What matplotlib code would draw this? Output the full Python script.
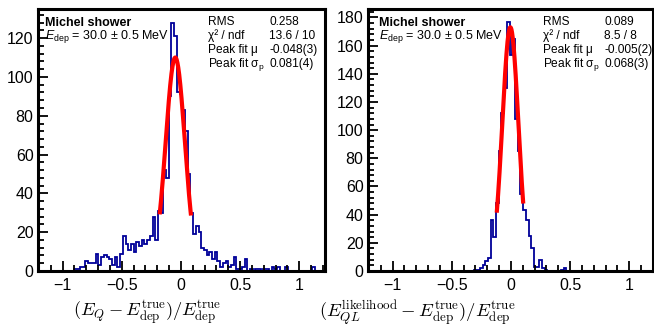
import numpy as np
import matplotlib
matplotlib.use("Agg")
import matplotlib.pyplot as plt
from matplotlib.ticker import MultipleLocator, AutoMinorLocator, FuncFormatter

plt.rcParams.update({
    "font.family": ["Liberation Sans", "DejaVu Sans"],
    "mathtext.fontset": "custom",
    "mathtext.rm": "Liberation Sans",
    "mathtext.it": "Liberation Sans:italic",
    "mathtext.bf": "Liberation Sans:bold",
})

# 105 bins between -1.2 and 1.2
bin_edges = np.linspace(-1.2, 1.2, 106)

# charge-only energy residual
counts_q = [
    0, 0, 0, 0, 0, 0, 0, 0, 0, 0, 0, 0, 0, 1, 1,
    2, 2, 5, 4, 4, 4, 9, 3, 7, 8, 7, 6, 3, 7, 2,
    9, 18, 14, 11, 14, 10, 15, 13, 16, 14, 16, 18, 28, 16, 31,
    30, 52, 48, 90, 128, 121, 92, 91, 83, 72, 50, 30, 19, 23, 20,
    12, 11, 8, 10, 6, 10, 5, 2, 4, 5, 2, 3, 7, 1, 1,
    2, 6, 0, 1, 0, 1, 1, 0, 1, 1, 0, 2, 1, 2, 0,
    0, 2, 0, 0, 0, 0, 0, 0, 0, 0, 0, 2, 0, 0, 0,
]

# charge+light likelihood energy residual
counts_ql = [
    0, 0, 0, 0, 0, 0, 0, 0, 0, 0, 0, 0, 0, 0, 0,
    0, 0, 0, 0, 0, 0, 0, 0, 0, 0, 0, 0, 0, 0, 0,
    0, 0, 0, 0, 0, 0, 0, 0, 0, 1, 1, 2, 4, 7, 9,
    36, 24, 48, 85, 112, 130, 177, 153, 165, 108, 85, 55, 43, 36, 25,
    16, 3, 3, 8, 2, 1, 0, 0, 0, 0, 0, 1, 2, 0, 0,
    0, 0, 0, 0, 0, 0, 0, 0, 0, 0, 0, 0, 0, 0, 0,
    0, 0, 0, 0, 0, 0, 0, 0, 0, 0, 0, 0, 0, 0, 0,
]

# Gaussian peak fits: amplitude, mean, sigma, fit range
fit_q = dict(amp=110, mu=-0.048, sigma=0.081, lo=-0.18, hi=0.085)
fit_ql = dict(amp=173, mu=-0.005, sigma=0.068, lo=-0.12, hi=0.104)

stats_labels = ["RMS", "χ² / ndf", "Peak fit μ", "Peak fit σ$_{\\rm p}$"]
stats_q = ["0.258", "13.6 / 10", "-0.048(3)", "0.081(4)"]
stats_ql = ["0.089", "8.5 / 8", "-0.005(2)", "0.068(3)"]

title_text = "Michel shower"
energy_text = "$E_{\\rm dep}$ = 30.0 ± 0.5 MeV"

xlabel_q = r"$(E_Q - E_{\mathrm{dep}}^{\mathrm{true}})/E_{\mathrm{dep}}^{\mathrm{true}}$"
xlabel_ql = (r"$(E_{QL}^{\mathrm{likelihood}} - E_{\mathrm{dep}}^{\mathrm{true}})"
             r"/E_{\mathrm{dep}}^{\mathrm{true}}$")

W, H = 654, 327
fig = plt.figure(figsize=(W / 100, H / 100), dpi=100)


def px(x, y):
    return x / W, 1 - y / H


def tick_fmt(v, pos):
    if abs(v) < 1e-9:
        return "0"
    return ("%g" % v).replace("-", "\u2212")


def style_axes(ax, xlim, ylim):
    ax.set_xlim(*xlim)
    ax.set_ylim(*ylim)
    ax.xaxis.set_major_locator(MultipleLocator(0.5))
    ax.xaxis.set_minor_locator(MultipleLocator(0.1))
    ax.xaxis.set_major_formatter(FuncFormatter(tick_fmt))
    ax.yaxis.set_major_locator(MultipleLocator(20))
    ax.yaxis.set_minor_locator(AutoMinorLocator(5))
    ax.tick_params(which="both", direction="in", top=False, right=False,
                   labelsize=11.5, width=1.3, colors="black")
    ax.tick_params(which="major", length=7)
    ax.tick_params(which="minor", length=4)
    ax.tick_params(axis="y", pad=3)
    ax.tick_params(axis="x", pad=5)
    for s in ax.spines.values():
        s.set_linewidth(2.2)


def draw_panel(ax, counts, fit):
    ax.stairs(counts, bin_edges, color="#000099", lw=1.3)
    xs = np.linspace(fit["lo"], fit["hi"], 200)
    ys = fit["amp"] * np.exp(-0.5 * ((xs - fit["mu"]) / fit["sigma"]) ** 2)
    ax.plot(xs, ys, color="red", lw=3, solid_capstyle="butt")


def draw_stats(x_title, x_lab, x_val, values):
    fig.text(*px(x_title, 25.5), title_text, fontsize=9.0, fontweight="bold")
    fig.text(*px(x_title, 39.2), energy_text, fontsize=9.0)
    for i, (lab, val) in enumerate(zip(stats_labels, values)):
        yb = 25.2 + 13.9 * i
        fig.text(*px(x_lab, yb), lab, fontsize=8.6)
        fig.text(*px(x_val, yb), val, fontsize=8.6)


ax1 = fig.add_axes([37.7 / W, 1 - 271 / H, 287 / W, 262 / H])
draw_panel(ax1, counts_q, fit_q)
style_axes(ax1, (-1.211, 1.215), (0, 135))

ax2 = fig.add_axes([367.7 / W, 1 - 271 / H, 285.3 / W, 262 / H])
draw_panel(ax2, counts_ql, fit_ql)
style_axes(ax2, (-1.211, 1.201), (0, 186))

draw_stats(45, 208.3, 269.3, stats_q)
draw_stats(379.3, 543.3, 604.3, stats_ql)

fig.text(*px(147.5, 313), xlabel_q, fontsize=13.2, ha="center", va="center",
         math_fontfamily="cm")
fig.text(*px(417.5, 313), xlabel_ql, fontsize=13.4, ha="center", va="center",
         math_fontfamily="cm")

fig.savefig("out.png", dpi=100)
